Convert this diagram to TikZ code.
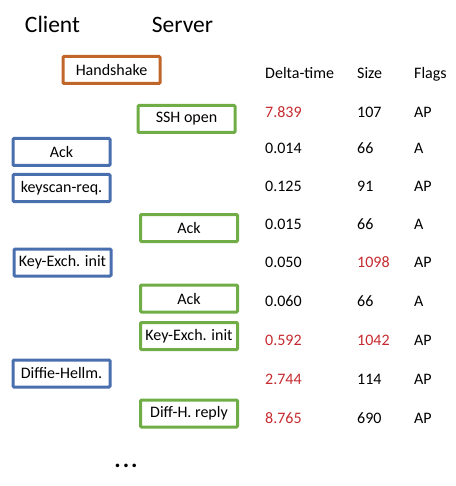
\documentclass[tikz,border=0pt]{standalone}
\usepackage{fontspec}
\setmainfont{Carlito}
\usepackage{tikz}
\usetikzlibrary{positioning}
\definecolor{HSOrange}{HTML}{C0662A}
\definecolor{SrvGreen}{HTML}{70AD47}
\definecolor{CltBlue}{HTML}{4A6FAE}
\definecolor{SlowRed}{HTML}{C62A2F}

\begin{document}
\begin{tikzpicture}[x=1pt,y=-1pt,
	msg/.style={draw, line width=3pt, rounded corners=1pt, inner sep=0pt, minimum width=97pt, minimum height=27pt, font=\fontsize{16}{19}\selectfont},
	client/.style={msg, draw=CltBlue},
	server/.style={msg, draw=SrvGreen},
	cell/.style={anchor=base west, inner sep=0pt, font=\fontsize{16}{19}\selectfont},
	slow/.style={cell, text=SlowRed}]
	\useasboundingbox (0,0) rectangle (455,486);
	
	\node[anchor=base, font=\fontsize{23.5}{28}\selectfont] (client) at (52.5,33) {Client};
	\node[anchor=base, font=\fontsize{23.5}{28}\selectfont] (server) at (182.5,33) {Server};
	
	\node[msg, draw=HSOrange] (hs) at (111.5,70) {Handshake};
	
	\node[server] (sshopen) at (186.5,119) {SSH open};
	\node[client] (ackc) at (61.5,152) {Ack};
	\node[client] (keyscan) at (61.5,188) {keyscan-req.};
	\node[server] (acks) at (189,228) {Ack};
	\node[client] (kexc) at (62.5,262.5) {Key-Exch. init};
	\node[server] (ackss) at (189,298.5) {Ack};
	\node[server] (kexs) at (189,336) {Key-Exch. init};
	\node[client] (dhc) at (61.5,373.5) {Diffie-Hellm.};
	\node[server] (dhs) at (189,413.5) {Diff-H. reply};
	
	\node[anchor=base, inner sep=0pt, font=\fontsize{24}{28}\selectfont\bfseries] (more) at (126,467) {.\hspace{2pt}.\hspace{2pt}.};
	
	% table
	\node[cell] (hdt) at (265,79) {Delta-time};
	\node[cell] (hsz) at (357,79) {Size};
	\node[cell] (hfl) at (414,79) {Flags};
	
	\node[slow] (dt1) at (265,118) {7.839};
	\node[cell] (sz1) at (357,118) {107};
	\node[cell] (fl1) at (414,118) {AP};
	
	\node[cell] (dt2) at (265,154) {0.014};
	\node[cell] (sz2) at (357,154) {66};
	\node[cell] (fl2) at (414,154) {A};
	
	\node[cell] (dt3) at (265,191) {0.125};
	\node[cell] (sz3) at (357,191) {91};
	\node[cell] (fl3) at (414,191) {AP};
	
	\node[cell] (dt4) at (265,229) {0.015};
	\node[cell] (sz4) at (357,229) {66};
	\node[cell] (fl4) at (414,229) {A};
	
	\node[cell] (dt5) at (265,267) {0.050};
	\node[slow] (sz5) at (357,267) {1098};
	\node[cell] (fl5) at (414,267) {AP};
	
	\node[cell] (dt6) at (265,306) {0.060};
	\node[cell] (sz6) at (357,306) {66};
	\node[cell] (fl6) at (414,306) {A};
	
	\node[slow] (dt7) at (265,345) {0.592};
	\node[slow] (sz7) at (357,345) {1042};
	\node[cell] (fl7) at (414,345) {AP};
	
	\node[slow] (dt8) at (265,384) {2.744};
	\node[cell] (sz8) at (357,384) {114};
	\node[cell] (fl8) at (414,384) {AP};
	
	\node[slow] (dt9) at (265,423) {8.765};
	\node[cell] (sz9) at (357,423) {690};
	\node[cell] (fl9) at (414,423) {AP};
\end{tikzpicture}
\end{document}
